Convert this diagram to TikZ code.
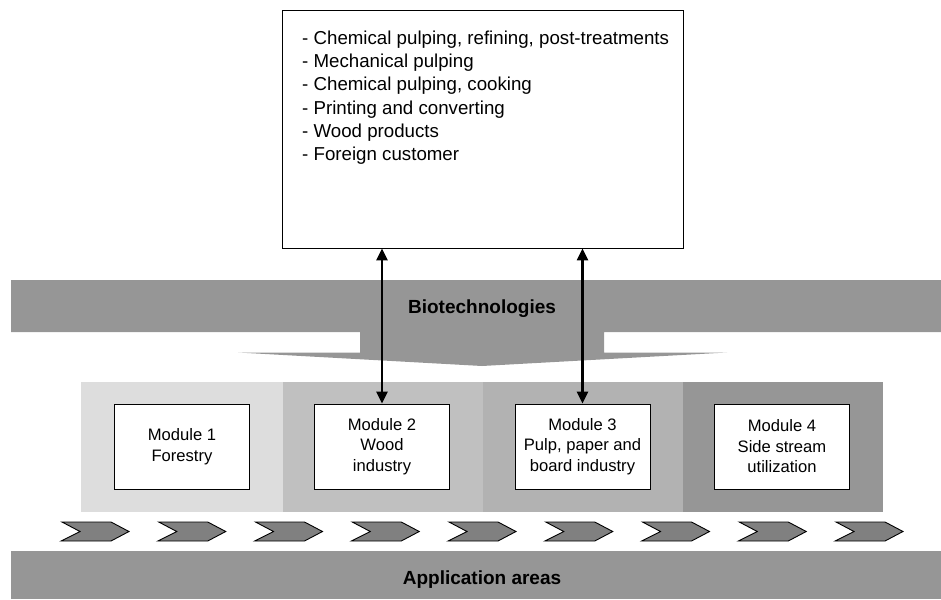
\documentclass[tikz,border=0pt]{standalone}
\usepackage{fontspec}
\setmainfont{Liberation Sans}
\usetikzlibrary{arrows.meta}

\definecolor{bandgray}{HTML}{969696}
\definecolor{secA}{HTML}{DDDDDD}
\definecolor{secB}{HTML}{C0C0C0}
\definecolor{secC}{HTML}{B2B2B2}
\definecolor{secD}{HTML}{969696}
\definecolor{chevfill}{HTML}{808080}

\tikzset{
  band/.style={fill=bandgray, draw=none},
  bandlabel/.style={font=\fontsize{19}{22}\selectfont\bfseries, inner sep=0pt, anchor=base},
  section/.style={draw=none, minimum width=200pt, minimum height=130pt, inner sep=0pt},
  modbox/.style={draw=black, line width=0.8pt, fill=white, minimum width=135pt,
    minimum height=85pt, inner sep=0pt, align=center,
    font=\fontsize{16.6}{20.5}\selectfont},
  chevron/.style={fill=chevfill, draw=black, line width=0.9pt, line join=miter},
  biarrow/.style={line width=2.4pt,
    {Triangle[length=12pt,width=11pt]}-{Triangle[length=12pt,width=11pt]}},
}

\begin{document}
\begin{tikzpicture}[x=1pt, y=-1pt]
  \useasboundingbox (0,0) rectangle (941,599);

  % Biotechnologies band with its downward arrow
  \fill[bandgray] (11,280) -- (941,280) -- (941,332) -- (604,332) -- (604,352.5)
    -- (727,352.5) -- (482,366) -- (238,352.5) -- (360,352.5) -- (360,332)
    -- (11,332) -- cycle;
  \node[bandlabel] (bio) at (482,313) {Biotechnologies};

  % Module strip, four shaded sections
  \node[section, fill=secA, minimum width=202pt, anchor=north west] (s1) at (81,382) {};
  \node[section, fill=secB, anchor=north west] (s2) at (283,382) {};
  \node[section, fill=secC, anchor=north west] (s3) at (483,382) {};
  \node[section, fill=secD, anchor=north west] (s4) at (683,382) {};

  % Module boxes
  \node[modbox] (m1) at (182,446.5) {Module 1\\Forestry};
  \node[modbox] (m2) at (382,446.5) {Module 2\\Wood\\industry};
  \node[modbox] (m3) at (582.5,446.5) {Module 3\\Pulp, paper and\\board industry};
  \node[modbox] (m4) at (782,446.5) {Module 4\\Side stream\\utilization};

  % Row of chevrons
  \foreach \i in {0,...,8} {
    \pgfmathsetmacro{\xo}{61+96.75*\i}
    \draw[chevron] (\xo+1,522) -- (\xo+50,522) -- (\xo+68,531.5) -- (\xo+50,541)
      -- (\xo,541) -- (\xo+19,531.5) -- cycle;
  }

  % Application areas band
  \fill[bandgray] (11,551) rectangle (941,599);
  \node[bandlabel] (appl) at (482,584.5) {Application areas};

  % Application list box
  \node[draw=black, line width=0.9pt, fill=white, minimum width=401pt,
    minimum height=238pt, inner sep=0pt] (top) at (482.5,129) {};
  \node[anchor=north west, align=left, inner sep=0pt,
    font=\fontsize{18.7}{23.3}\selectfont] (list) at (302,30.5)
    {- Chemical pulping, refining, post-treatments\\
     - Mechanical pulping\\
     - Chemical pulping, cooking\\
     - Printing and converting\\
     - Wood products\\
     - Foreign customer};

  % Two-way links between the list and modules 2 and 3
  \draw[biarrow] (top.south -| m2.north) -- (m2.north);
  \draw[biarrow] (top.south -| m3.north) -- (m3.north);
\end{tikzpicture}
\end{document}
